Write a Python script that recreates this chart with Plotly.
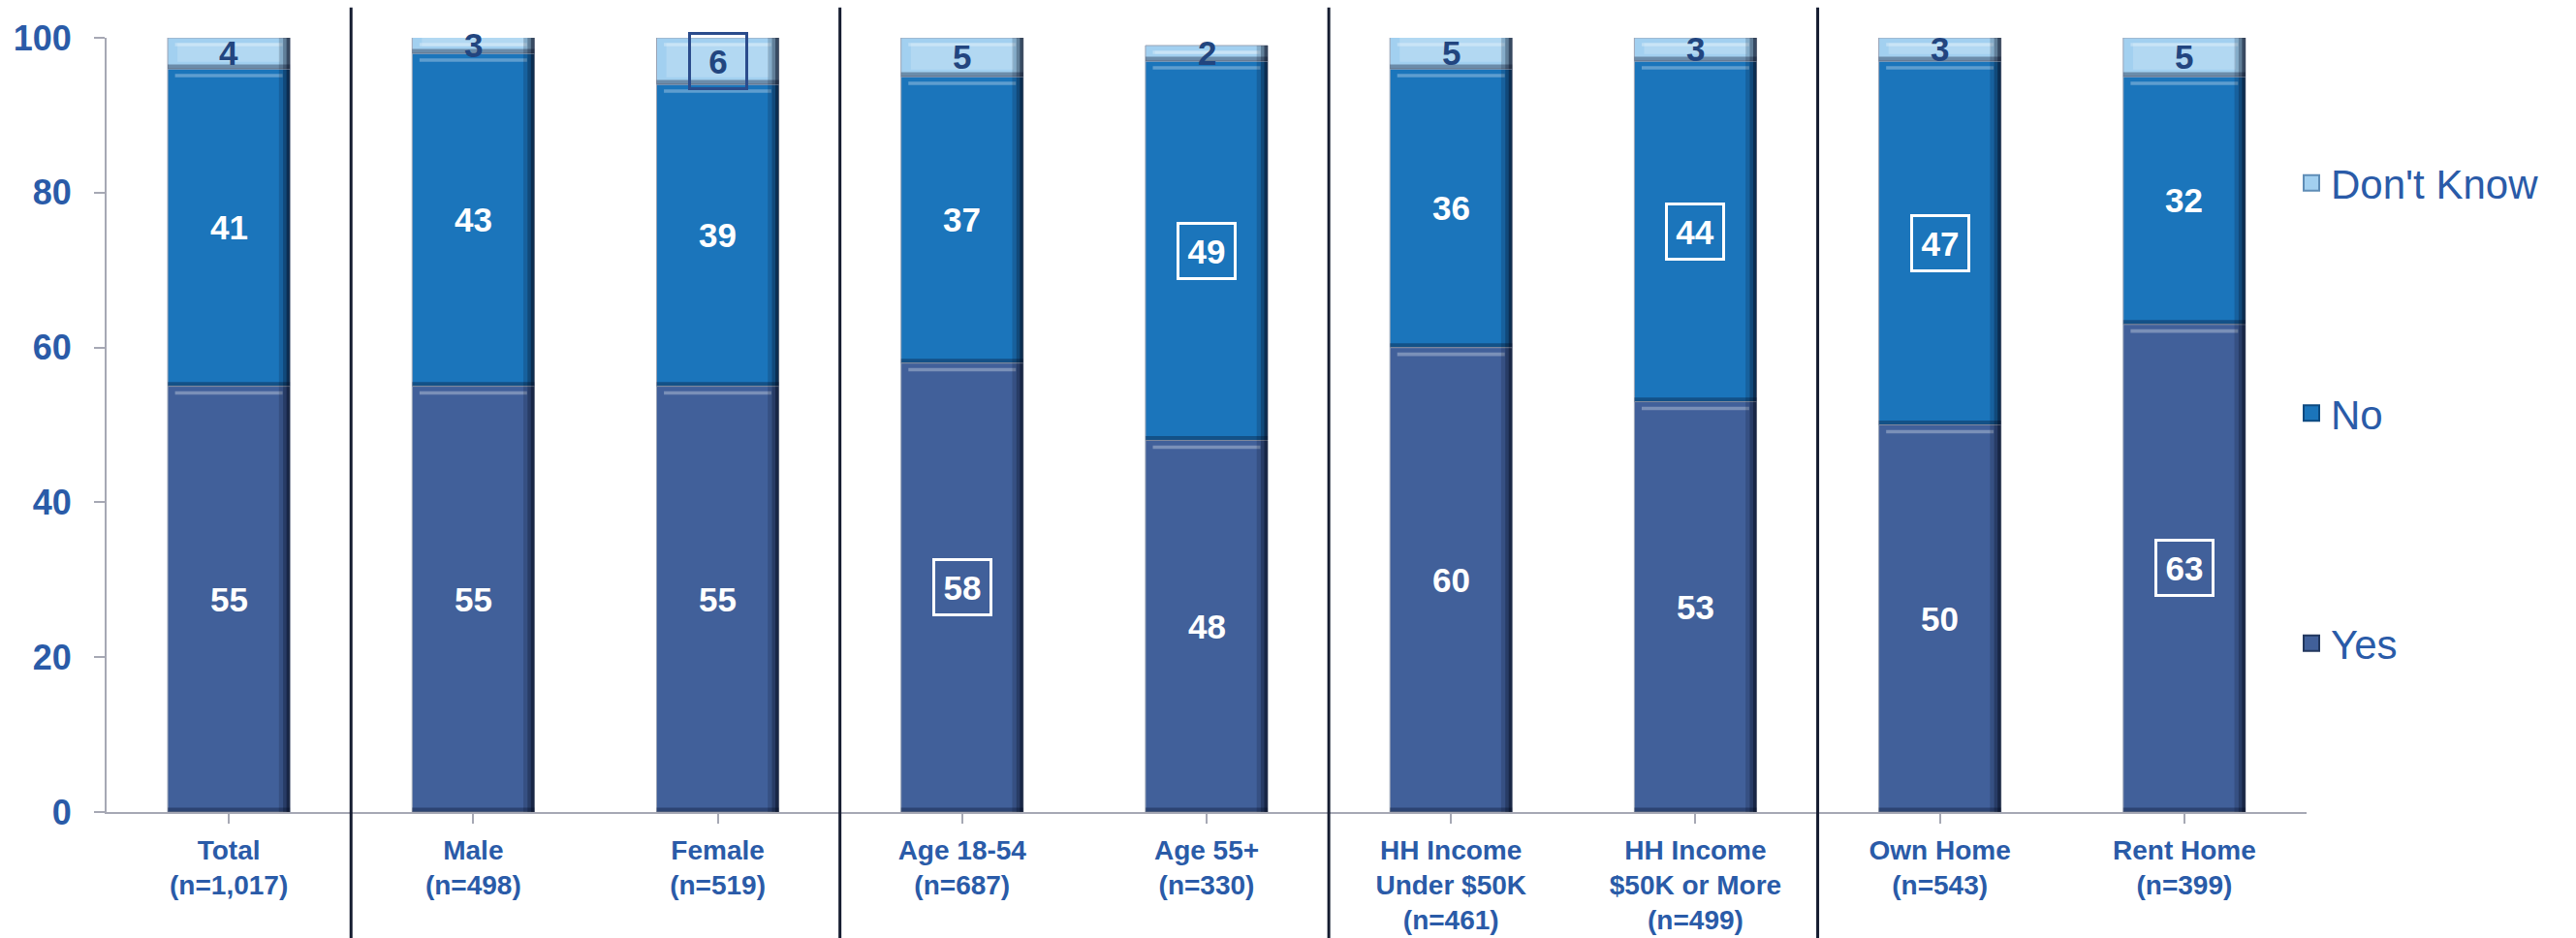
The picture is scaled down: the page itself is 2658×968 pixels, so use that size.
import plotly.graph_objects as go

# Survey breakdown by demographic group (percent)
groups = ["Total", "Male", "Female", "Age 18-54", "Age 55+",
          "HH Income<br>Under $50K", "HH Income<br>$50K or More",
          "Own Home", "Rent Home"]
sample_sizes = ["1,017", "498", "519", "687", "330", "461", "499", "543", "399"]

yes_pct = [55, 55, 55, 58, 48, 60, 53, 50, 63]
no_pct = [41, 43, 39, 37, 49, 36, 44, 47, 32]
dk_pct = [4, 3, 6, 5, 2, 5, 3, 3, 5]

# values called out with a box around the label
yes_boxed = [False, False, False, True, False, False, False, False, True]
no_boxed = [False, False, False, False, True, False, True, True, False]
dk_boxed = [False, False, True, False, False, False, False, False, False]

y_ticks = [0, 20, 40, 60, 80, 100]

tick_labels = [f"{g}<br>(n={n})" for g, n in zip(groups, sample_sizes)]
xs = list(range(len(groups)))

FONT = "Liberation Sans, Arial, sans-serif"
LABEL_BLUE = "#2A5BA8"
BAR_W = 0.5
Y_MAX = 100

series = [
    dict(name="Yes", vals=yes_pct, color="#41609A", edge="#22375E", text="white",
         box="white", boxed=yes_boxed, rank=3),
    dict(name="No", vals=no_pct, color="#1B75BB", edge="#0D4A80", text="white",
         box="white", boxed=no_boxed, rank=2),
    dict(name="Don't Know", vals=dk_pct, color="#A2D0F0", edge="#5F8DB6",
         text="#22457F", box="#2B4C8C", boxed=dk_boxed, rank=1),
]

# stacked bases
running = [0] * len(xs)
for s in series:
    s["base"] = list(running)
    running = [r + v for r, v in zip(running, s["vals"])]

fig = go.Figure()
annotations = []

for s in series:
    base, vals = s["base"], s["vals"]
    tops = [b + v for b, v in zip(base, vals)]
    fig.add_trace(go.Bar(
        x=xs, y=vals, base=base, width=BAR_W, name=s["name"],
        marker=dict(color=s["color"], line=dict(color="#9AA3B5", width=1)),
        showlegend=False, hoverinfo="x+y+name",
    ))

    # bevel: inner glow for the light segment
    if s["rank"] == 1:
        fig.add_trace(go.Bar(
            x=xs, y=[v - 1.6 for v in vals], base=[b + 0.9 for b in base],
            width=BAR_W - 0.08,
            marker=dict(color="rgba(255,255,255,0.18)", line=dict(width=0)),
            showlegend=False, hoverinfo="skip"))

    # bevel: top highlight strip
    fig.add_trace(go.Bar(
        x=xs, y=[0.45] * len(xs), base=[min(t, Y_MAX) - 1.1 for t in tops],
        width=BAR_W - 0.06,
        marker=dict(color="rgba(255,255,255,0.30)", line=dict(width=0)),
        showlegend=False, hoverinfo="skip"))

    # bevel: dark band along the bottom of each segment
    fig.add_trace(go.Bar(
        x=xs, y=[0.55] * len(xs), base=base, width=BAR_W,
        marker=dict(color="rgba(5,15,40,0.35)", line=dict(width=0)),
        showlegend=False, hoverinfo="skip"))

    # bevel: shaded right edge (layered for a soft gradient)
    for w, a in [(0.045, 0.18), (0.028, 0.28), (0.014, 0.45)]:
        fig.add_trace(go.Bar(
            x=xs, y=vals, base=base, width=w, offset=BAR_W / 2 - w,
            marker=dict(color=f"rgba(5,12,30,{a})", line=dict(width=0)),
            showlegend=False, hoverinfo="skip"))

    # legend entry with a bevelled square swatch
    fig.add_trace(go.Scatter(
        x=[None], y=[None], mode="markers", name=s["name"],
        legendrank=s["rank"], legendgroup=s["name"],
        marker=dict(symbol="square", size=22, color=s["color"],
                    line=dict(color=s["edge"], width=2)),
        hoverinfo="skip"))

    # value labels centred on the visible part of each segment
    for i, (b, v, t) in enumerate(zip(base, vals, tops)):
        ann = dict(
            x=i, y=(b + min(t, Y_MAX)) / 2, xref="x", yref="y",
            text=f"<b>{v}</b>", showarrow=False,
            font=dict(family=FONT, size=35, color=s["text"]),
        )
        if s["boxed"][i]:
            ann.update(bordercolor=s["box"], borderwidth=3, borderpad=0,
                       width=56, height=54)
        annotations.append(ann)

# vertical separators between demographic blocks
shapes = []
for bx in [0.5, 2.5, 4.5, 6.5]:
    shapes.append(dict(type="line", xref="x", yref="paper",
                       x0=bx, x1=bx, y0=-0.165, y1=1.039,
                       line=dict(color="#151C30", width=3)))

fig.update_layout(
    width=2658, height=968,
    margin=dict(l=110, r=278, t=39, b=130, autoexpand=False),
    plot_bgcolor="white", paper_bgcolor="white",
    barmode="overlay",
    font=dict(family=FONT, color=LABEL_BLUE),
    annotations=annotations,
    shapes=shapes,
    legend=dict(
        x=0.9934, xanchor="left", y=0.855, yanchor="top",
        traceorder="grouped", tracegroupgap=180,
        font=dict(family=FONT, size=42, color=LABEL_BLUE),
        bgcolor="rgba(0,0,0,0)",
    ),
    xaxis=dict(
        range=[-0.5, len(xs) - 0.5], automargin=False,
        tickmode="array", tickvals=xs, ticktext=tick_labels,
        tickson="boundaries", ticks="outside", ticklen=10,
        tickcolor="#A6A8B4", tickwidth=2, ticklabelstandoff=3,
        showline=True, linecolor="#A6A8B4", linewidth=2,
        showgrid=False, zeroline=False,
        tickfont=dict(family=FONT, size=28, color=LABEL_BLUE, weight="bold"),
    ),
    yaxis=dict(
        range=[0, Y_MAX], automargin=False, tickmode="array", tickvals=y_ticks,
        ticks="outside", ticklen=11, tickcolor="#A6A8B4", tickwidth=2,
        ticklabelstandoff=16,
        showline=True, linecolor="#A6A8B4", linewidth=2,
        showgrid=False, zeroline=False,
        tickfont=dict(family=FONT, size=36, color=LABEL_BLUE, weight="bold"),
    ),
)

fig.write_html("out.html")
